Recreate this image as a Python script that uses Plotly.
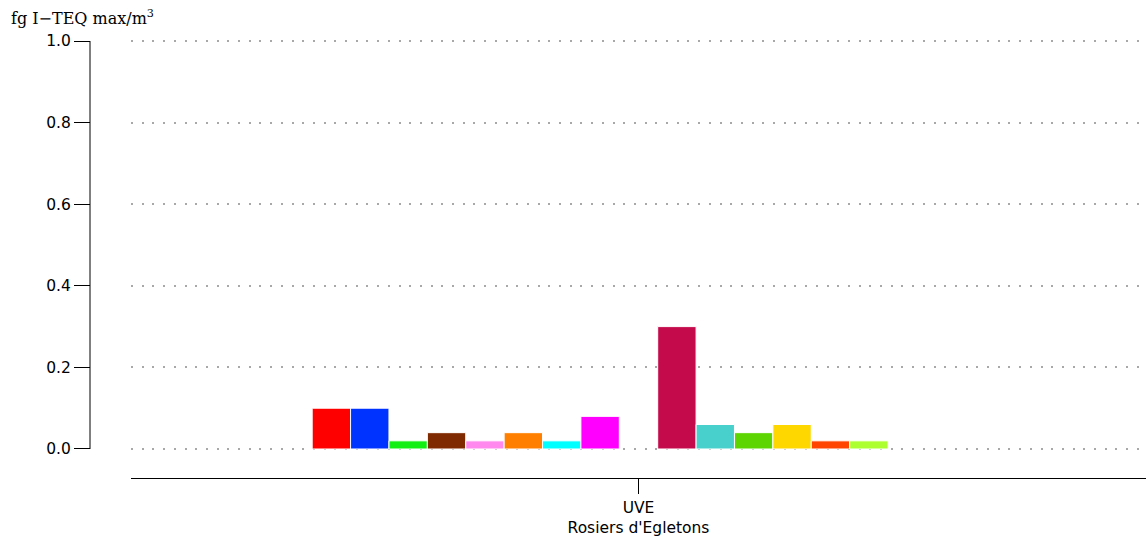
import plotly.graph_objects as go

categories = ["UVE<br>Rosiers d'Egletons"]
series_names = ["s1", "s2", "s3", "s4", "s5", "s6", "s7", "s8", "s9",
                "s10", "s11", "s12", "s13", "s14", "s15", "s16", "s17"]
series_values = [0.10, 0.10, 0.02, 0.04, 0.02, 0.04, 0.02, 0.08, None,
                 0.30, 0.06, 0.04, 0.06, 0.02, 0.02, None, None]
series_colors = ["#FF0000", "#0033FF", "#11EE11", "#7F2A00", "#FF88EE",
                 "#FF8000", "#00FFFF", "#FF00FF", "#FFFFFF",
                 "#C40A4A", "#48D1CC", "#5CD500", "#FFD700", "#FF4500",
                 "#ADFF2F", "#FFFFFF", "#FFFFFF"]
y_ticks = [0.0, 0.2, 0.4, 0.6, 0.8, 1.0]
y_title = "fg I\u2212TEQ max/m<sup>3</sup>"

W, H = 1146, 540
fig = go.Figure()
for name, val, col in zip(series_names, series_values, series_colors):
    fig.add_trace(go.Bar(
        x=categories, y=[val], name=name,
        marker=dict(color=col, line=dict(color="white", width=1)),
        showlegend=False, hoverinfo="skip",
    ))

fig.update_layout(
    width=W, height=H,
    margin=dict(l=0, r=0, t=40, b=62, autoexpand=False),
    paper_bgcolor="white", plot_bgcolor="white",
    barmode="group", bargap=0.357, bargroupgap=0,
    font=dict(family="DejaVu Sans", size=15.5, color="black"),
    xaxis=dict(
        domain=[131 / W, 1.0], automargin=False,
        showline=True, linecolor="black", linewidth=1,
        ticks="outside", ticklen=15, tickcolor="black",
        showgrid=False, zeroline=False, anchor="y",
        tickfont=dict(size=15.5, family="DejaVu Sans"),
    ),
    yaxis=dict(
        range=[-0.0711, 1.0025], automargin=False,
        anchor="free", position=90 / W,
        tickvals=y_ticks, ticktext=[f"{v:.1f}" for v in y_ticks],
        ticks="outside", ticklen=16, tickcolor="black",
        showline=False, zeroline=False,
        showgrid=True, gridcolor="#A8A8A8", gridwidth=1.5, griddash="2px,8.7px",
        tickfont=dict(size=15.5, family="DejaVu Sans"),
    ),
)

# y axis spine only between 0 and 1
fig.add_shape(type="line", xref="paper", yref="y",
              x0=90 / W, x1=90 / W, y0=0, y1=1.0,
              line=dict(color="black", width=1))

fig.add_annotation(
    text=y_title, xref="paper", yref="paper",
    x=9 / W, y=1.0, yshift=23, xanchor="left", yanchor="middle",
    showarrow=False,
    font=dict(family="DejaVu Serif", size=16, color="black"),
)

fig.write_html("out.html",
               config={"displayModeBar": False},
               post_script="document.body.style.margin='0';document.body.style.overflow='hidden';")
